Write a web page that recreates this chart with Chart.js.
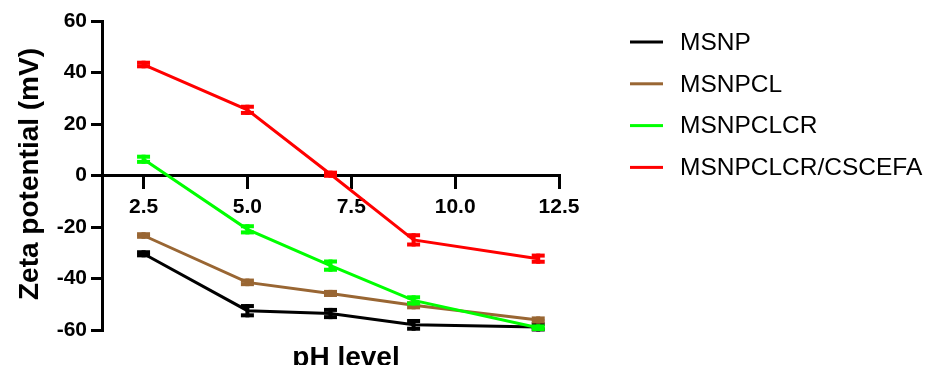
<!DOCTYPE html>
<html>
<head>
<meta charset="utf-8">
<script src="https://cdn.jsdelivr.net/npm/chart.js@4.4.1/dist/chart.umd.min.js"></script>
<style>
  html, body { margin: 0; padding: 0; background: #fff; }
  #wrap { width: 926px; height: 365px; position: relative; }
</style>
</head>
<body>
<div id="wrap"><canvas id="grafico"></canvas></div>
<script>
// valores (potencial zeta en mV)
const phLevels = [2.5, 5, 7, 9, 12];
const xTicks = [2.5, 5, 7.5, 10, 12.5];
const yTicks = [-60, -40, -20, 0, 20, 40, 60];

const seriesNames = ['MSNP', 'MSNPCL', 'MSNPCLCR', 'MSNPCLCR/CSCEFA'];
const msnp = [-30.4, -52.5, -53.6, -58.0, -58.8];
const msnpcl = [-23.3, -41.5, -45.8, -50.4, -56.1];
const msnpclcr = [6.3, -20.9, -35.0, -48.5, -59.1];
const msnpclcrCscefa = [43.1, 25.5, 0.5, -25.0, -32.3];

// desviaciones (barras de error)
const errMsnp = [0.6, 1.8, 1.4, 1.5, 1.0];
const errMsnpcl = [0.5, 0.7, 0.6, 0.8, 0.6];
const errMsnpclcr = [1.0, 1.2, 1.6, 1.2, 0.5];
const errMsnpclcrCscefa = [0.7, 1.2, 0.6, 1.8, 1.2];

const colores = ['#000000', '#996633', '#00ff00', '#ff0000'];
const FUENTE = "Arial, 'Liberation Sans', sans-serif";

const valores = [msnp, msnpcl, msnpclcr, msnpclcrCscefa];
const errores = [errMsnp, errMsnpcl, errMsnpclcr, errMsnpclcrCscefa];

const datasets = seriesNames.map((nombre, i) => ({
    label: nombre,
    data: phLevels.map((x, j) => ({ x: x, y: valores[i][j] })),
    errores: errores[i],
    borderColor: colores[i],
    backgroundColor: colores[i],
    borderWidth: 3,
    pointRadius: 0,
    tension: 0,
    order: 4 - i
}));

// barras de error con tapas planas
const barrasError = {
    id: 'barrasError',
    afterDatasetDraw(chart, args) {
        const ds = chart.data.datasets[args.index];
        const ctx = chart.ctx;
        const xs = chart.scales.x, ys = chart.scales.y;
        ctx.save();
        ctx.fillStyle = ds.borderColor;
        ds.data.forEach((p, j) => {
            const e = ds.errores[j];
            const px = xs.getPixelForValue(p.x);
            const top = ys.getPixelForValue(p.y + e);
            const bot = ys.getPixelForValue(p.y - e);
            ctx.fillRect(px - 2, top - 2, 4, bot - top + 4);
            ctx.fillRect(px - 6.5, top - 2, 13, 4);
            ctx.fillRect(px - 6.5, bot - 2, 13, 4);
        });
        ctx.restore();
    }
};

// titulos de ejes y leyenda a la derecha
const textos = {
    id: 'textos',
    afterDraw(chart) {
        const ctx = chart.ctx;
        ctx.save();
        ctx.fillStyle = '#000';
        ctx.font = 'bold 28px ' + FUENTE;
        ctx.textAlign = 'center';
        ctx.textBaseline = 'alphabetic';
        ctx.fillText('pH level', 346, 366);

        ctx.translate(38, 174);
        ctx.rotate(-Math.PI / 2);
        ctx.fillText('Zeta potential (mV)', 0, 0);
        ctx.restore();

        ctx.save();
        ctx.font = '24.5px ' + FUENTE;
        ctx.textAlign = 'left';
        ctx.textBaseline = 'middle';
        seriesNames.forEach((nombre, i) => {
            const y = 42 + i * 41.8;
            ctx.fillStyle = colores[i];
            ctx.fillRect(630, y - 1.5, 33, 3);
            ctx.fillStyle = '#000';
            ctx.fillText(nombre, 680, y + 1);
        });
        ctx.restore();
    }
};

new Chart(document.getElementById('grafico'), {
    type: 'line',
    data: { datasets: datasets },
    options: {
        responsive: true,
        maintainAspectRatio: false,
        animation: false,
        layout: { padding: { left: 0, right: 367, top: 21, bottom: 35 } },
        plugins: {
            legend: { display: false },
            tooltip: { enabled: false }
        },
        scales: {
            x: {
                type: 'linear',
                position: { y: 0 },
                min: 1.5,
                max: 12.5,
                afterBuildTicks: (scale) => { scale.ticks = xTicks.map(v => ({ value: v })); },
                border: { display: true, color: '#000', width: 3 },
                grid: { drawOnChartArea: false, color: '#000', lineWidth: 3, tickLength: 12 },
                ticks: {
                    color: '#000',
                    padding: 7,
                    maxRotation: 0,
                    font: { family: FUENTE, size: 21, weight: 'bold' },
                    callback: (v) => Number(v).toFixed(1)
                }
            },
            y: {
                type: 'linear',
                min: -60,
                max: 60,
                afterBuildTicks: (scale) => { scale.ticks = yTicks.map(v => ({ value: v })); },
                afterFit: (scale) => { scale.width = 102; },
                border: { display: true, color: '#000', width: 3 },
                grid: { drawOnChartArea: false, color: '#000', lineWidth: 3, tickLength: 11 },
                ticks: {
                    color: '#000',
                    padding: 4,
                    font: { family: FUENTE, size: 21, weight: 'bold' }
                }
            }
        }
    },
    plugins: [barrasError, textos]
});
</script>
</body>
</html>
